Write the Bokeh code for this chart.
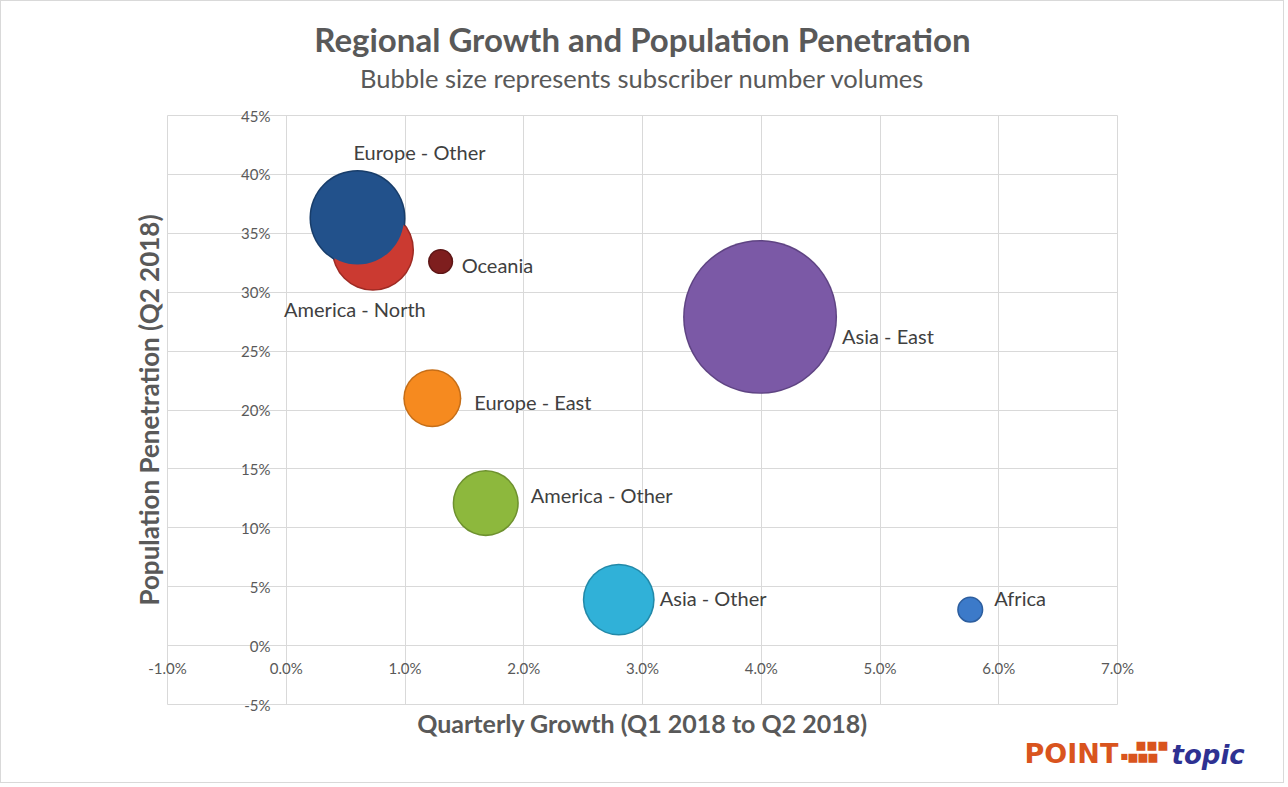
from bokeh.plotting import figure
from bokeh.models import (ColumnDataSource, NumeralTickFormatter, SingleIntervalTicker,
                          Title, Label, Range1d)
from bokeh.embed import file_html
from bokeh.resources import INLINE
from bokeh.core.properties import value
import math

# ---------------- data ----------------
regions = ["America - North", "Europe - Other", "Oceania", "Asia - East",
           "Europe - East", "America - Other", "Asia - Other", "Africa"]
growth = [0.0073, 0.0060, 0.0130, 0.0399, 0.0123, 0.0168, 0.0280, 0.0576]       # Q1->Q2 2018
penetration = [0.336, 0.363, 0.326, 0.279, 0.210, 0.121, 0.039, 0.0305]          # Q2 2018
subscribers = [128, 175, 12, 450, 64, 83, 98, 13]                                  # relative volumes

x_ticks_step = 0.01
y_ticks_step = 0.05

# ---------------- styles ----------------
fill_colors = ["#CB3A31", "#22518B", "#7E1E1E", "#7B59A6", "#F68A1F", "#8DB83D", "#30B1D8", "#3C7AC9"]
edge_colors = ["#9E2B24", "#183D6A", "#5E1616", "#5F4483", "#C56E18", "#6E912F", "#2389A8", "#2D5E9E"]
label_dx = [-18, 62, 21, 82, 42, 45, 41, 24]
label_dy = [59, -66, 3, 19, 4, -8, -2, -12]
label_align = ["center", "center", "left", "left", "left", "left", "left", "left"]

FONT = "Lato"
GRID = "#D9D9D9"
TXT = "#595959"
SCALE = 7.26  # px of diameter per sqrt(volume)

diam = [SCALE * math.sqrt(s) for s in subscribers]
src = ColumnDataSource(dict(
    x=growth, y=penetration, name=regions,
    d=diam, d_in=[v - 3 for v in diam],
    fill=fill_colors, edge=edge_colors,
    dx=label_dx, dy=label_dy, align=label_align,
))

W, H = 1284, 783
p = figure(width=W, height=H, output_backend="svg", toolbar_location=None,
           x_range=Range1d(-0.01, 0.07), y_range=Range1d(-0.05, 0.45),
           min_border_left=166, min_border_right=W - 1116,
           min_border_top=114, min_border_bottom=H - 703, title=None)
p.styles = {"border": "1px solid #D9D9D9"}

p.outline_line_color = GRID
p.background_fill_color = "white"
p.border_fill_color = "white"

for ax in (p.xaxis[0], p.yaxis[0]):
    ax.axis_line_color = None
    ax.major_tick_line_color = None
    ax.minor_tick_line_color = None
    ax.major_tick_out = 0
    ax.major_tick_in = 0
    ax.minor_tick_out = 0
    ax.major_label_text_font = FONT
    ax.major_label_text_font_size = "15px"
    ax.major_label_text_color = TXT
    ax.axis_label_text_font = FONT
    ax.axis_label_text_font_style = "bold"
    ax.axis_label_text_color = TXT
p.xaxis.ticker = SingleIntervalTicker(interval=x_ticks_step)
p.yaxis.ticker = SingleIntervalTicker(interval=y_ticks_step)
p.xaxis.formatter = NumeralTickFormatter(format="0.0%")
p.yaxis.formatter = NumeralTickFormatter(format="0%")
# tick labels sit on the zero lines, inside the plot area
p.xaxis.major_label_standoff = -46
p.yaxis.major_label_standoff = -103
p.xaxis.axis_label = "Quarterly Growth (Q1 2018 to Q2 2018)"
p.yaxis.axis_label = "Population Penetration (Q2 2018)"
p.xaxis.axis_label_text_font_size = "25px"
p.yaxis.axis_label_text_font_size = "26px"
p.xaxis.axis_label_standoff = 28
p.yaxis.axis_label_standoff = 73

p.xgrid.ticker = SingleIntervalTicker(interval=x_ticks_step)
p.ygrid.ticker = SingleIntervalTicker(interval=y_ticks_step)
p.grid.grid_line_color = GRID
p.grid.grid_line_width = 1

# bubbles (darker rim + main fill)
p.scatter("x", "y", size="d", source=src, fill_color="edge", line_color=None, marker="circle")
p.scatter("x", "y", size="d_in", source=src, fill_color="fill", line_color=None, marker="circle")

# data labels
p.text("x", "y", text="name", source=src, x_offset="dx", y_offset="dy",
       text_align="align", text_baseline="middle",
       text_font=value(FONT), text_font_size="20px", text_color="#404040")

# titles
p.add_layout(Title(text="Bubble size represents subscriber number volumes", align="center",
                   text_font=FONT, text_font_size="25.5px", text_font_style="normal",
                   text_color=TXT, standoff=45), "above")
p.add_layout(Title(text="Regional Growth and Population Penetration", align="center",
                   text_font=FONT, text_font_size="33px", text_font_style="bold",
                   text_color=TXT, standoff=-40), "above")

# logo (canvas coordinates, placed in side panels so it is not clipped)
LOGO_OR = "#D9541E"
LOGO_BL = "#2E3192"
p.add_layout(Label(x=1022, y=751, x_units="canvas", y_units="canvas", text="POINT",
                   text_font="DejaVu Sans", text_font_size="27px", text_font_style="bold",
                   text_color=LOGO_OR, text_baseline="alphabetic"), "left")
p.add_layout(Label(x=1169, y=752, x_units="canvas", y_units="canvas", text="topic",
                   text_font="DejaVu Sans", text_font_size="26px", text_font_style="bold italic",
                   text_color=LOGO_BL, text_baseline="alphabetic"), "right")
logo_squares = [(1133, 742, "11.5px"), (1144, 742, "11.5px"), (1155, 742, "11.5px"),
                (1125, 754, "11.5px"), (1135, 754, "11.5px"), (1145, 754, "11.5px"),
                (1118, 754, "8px")]
for (sx, sy, fs) in logo_squares:
    p.add_layout(Label(x=sx, y=sy, x_units="canvas", y_units="canvas", text="\u25a0",
                       text_font="DejaVu Sans", text_font_size=fs,
                       text_color=LOGO_OR, text_baseline="alphabetic"), "right")

open("out.html", "w").write(file_html(p, INLINE))
